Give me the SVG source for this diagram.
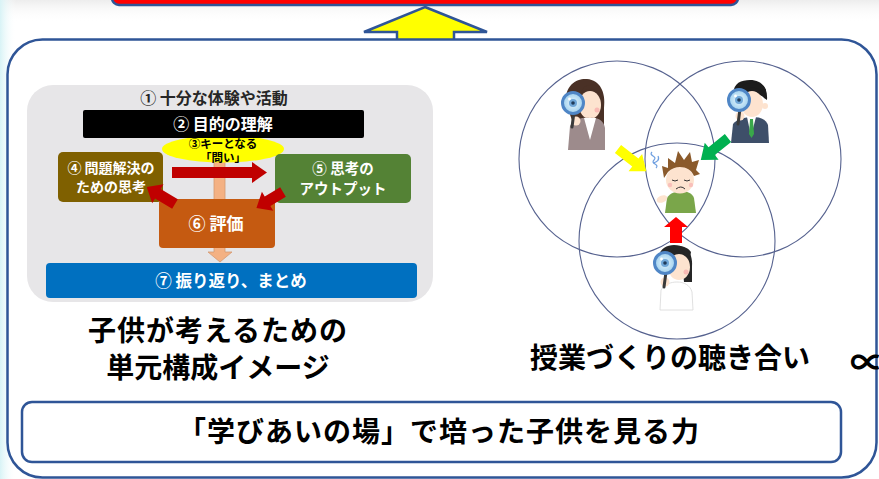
<svg xmlns="http://www.w3.org/2000/svg" width="879" height="479" viewBox="0 0 879 479">
  <defs>
    <linearGradient id="edgeL" x1="0" y1="0" x2="1" y2="0">
      <stop offset="0" stop-color="#d8f3f6"/>
      <stop offset="1" stop-color="#ffffff" stop-opacity="0"/>
    </linearGradient>
    <linearGradient id="edgeT" x1="0" y1="0" x2="0" y2="1">
      <stop offset="0" stop-color="#ededed"/>
      <stop offset="1" stop-color="#ffffff" stop-opacity="0"/>
    </linearGradient>
    <radialGradient id="lens" cx="0.5" cy="0.5" r="0.5">
      <stop offset="0" stop-color="#e8f6fd"/>
      <stop offset="1" stop-color="#9fd0ee"/>
    </radialGradient>
    <!-- magnifying glass, centred on the lens -->
    <g id="loupe">
      <line x1="1" y1="9" x2="-1" y2="24" stroke="#3a3a3a" stroke-width="3" stroke-linecap="round"/>
      <circle r="10.5" fill="url(#lens)" stroke="#4f86c6" stroke-width="3"/>
      <circle r="4" fill="#6fa7d8"/>
      <circle r="1.8" fill="#1f3b5a"/>
      <circle cx="-3.5" cy="-4" r="1.4" fill="#ffffff"/>
    </g>
  </defs>
  <style>
    .jp { font-family: "Noto Sans CJK JP", "Noto Sans", sans-serif; font-weight: 700; }
    .big { font-size: 28px; fill: #000; }
    .panel { font-size: 16px; }
    .wt { fill: #ffffff; }
    .frame { fill: #ffffff; stroke: #2f5597; stroke-width: 2.5; }
    .venn { fill: none; stroke: #56628f; stroke-width: 1.1; }
    .redArrow { fill: #c00000; }
    .skin { fill: #fde3cf; }
  </style>

  <!-- page background -->
  <rect width="879" height="479" fill="#ffffff"/>
  <rect width="879" height="22" fill="url(#edgeT)"/>
  <rect width="16" height="479" fill="url(#edgeL)"/>

  <!-- heading bar above (cut by the top edge) -->
  <g id="topBar">
    <rect x="112" y="-24" width="626" height="29" rx="7" fill="#ff0000" stroke="#2f5597" stroke-width="2.5"/>
  </g>

  <!-- upward block arrow -->
  <g id="upArrow">
    <polygon points="425,7 487,32 454,32 454,56 397,56 397,32 364,32" fill="#ffff00" stroke="#2f5597" stroke-width="2.5" stroke-linejoin="miter"/>
  </g>

  <!-- main frame -->
  <g id="mainFrame">
    <rect x="7.5" y="39.5" width="869" height="438" rx="35" class="frame"/>
  </g>

  <!-- unit structure panel -->
  <g id="unitPanel">
    <rect x="27" y="85" width="406" height="217" rx="26" fill="#e7e6e8"/>
    <text x="214" y="104" text-anchor="middle" class="jp panel" fill="#262626">① 十分な体験や活動</text>
  </g>

  <g id="connectors">
    <!-- key question down to reflection -->
    <polygon points="214,158 225,158 225,252 232,252 220,262 208,252 214,252" fill="#f4b183" stroke="#d49a72" stroke-width="0.8"/>
  </g>

  <g id="keyQuestion">
    <ellipse cx="223" cy="149" rx="61" ry="13.5" fill="#ffff00"/>
  </g>

  <g id="purpose">
    <rect x="83" y="110" width="281" height="28" rx="2" fill="#000000"/>
    <text x="223" y="130" text-anchor="middle" class="jp panel wt">② 目的の理解</text>
  </g>

  <g id="keyQuestionText">
    <text x="223" y="147.5" text-anchor="middle" class="jp" font-size="11.5px" fill="#000">③キーとなる</text>
    <text x="223" y="161.5" text-anchor="middle" class="jp" font-size="11.5px" fill="#000">「問い」</text>
  </g>

  <g id="problemSolving">
    <rect x="58" y="152" width="105" height="50" rx="5" fill="#7f6000"/>
    <text x="111" y="173" text-anchor="middle" class="jp wt" font-size="14px">④ 問題解決の</text>
    <text x="111" y="192" text-anchor="middle" class="jp wt" font-size="14px">ための思考</text>
  </g>

  <g id="output">
    <rect x="275" y="154" width="136" height="49" rx="5" fill="#548235"/>
    <text x="343" y="174" text-anchor="middle" class="jp wt" font-size="14.5px">⑤ 思考の</text>
    <text x="343" y="194" text-anchor="middle" class="jp wt" font-size="14.5px">アウトプット</text>
  </g>

  <g id="evaluation">
    <rect x="159" y="199" width="116" height="49" rx="4" fill="#c55a11"/>
    <text x="216" y="230" text-anchor="middle" class="jp wt" font-size="17px">⑥ 評価</text>
  </g>

  <g id="panelArrows">
    <!-- thinking to output -->
    <polygon class="redArrow" points="0,-5.5 0,5.5 80,5.5 80,10.5 95,0 80,-10.5 80,-5.5" transform="translate(172,172.5)"/>
    <!-- evaluation back to problem solving -->
    <polygon class="redArrow" points="0,-5.5 0,5.5 20,5.5 20,11 33,0 20,-11 20,-5.5" transform="translate(175,204) rotate(211)"/>
    <!-- output to evaluation -->
    <polygon class="redArrow" points="0,-5.5 0,5.5 18,5.5 18,11 31,0 18,-11 18,-5.5" transform="translate(283,192) rotate(149)"/>
  </g>

  <g id="reflection">
    <rect x="46" y="263" width="371" height="35" rx="4" fill="#0070c0"/>
    <text x="231" y="287" text-anchor="middle" class="jp wt" font-size="16.5px">⑦ 振り返り、まとめ</text>
  </g>

  <g id="unitCaption">
    <text x="218" y="341" text-anchor="middle" class="jp big" letter-spacing="1">子供が考えるための</text>
    <text x="218" y="378" text-anchor="middle" class="jp big" letter-spacing="0">単元構成イメージ</text>
  </g>

  <!-- three overlapping viewpoints -->
  <g id="vennCircles">
    <circle cx="617" cy="159" r="98" class="venn"/>
    <circle cx="743" cy="159" r="98" class="venn"/>
    <circle cx="677" cy="241" r="98" class="venn"/>
  </g>

  <g id="observerLeft">
    <path d="M566,104 C564,84 578,78 587,79 C600,80 606,92 604,108 L604,136 L592,136 L572,120 Z" fill="#4a3126"/>
    <ellipse cx="590" cy="105" rx="11" ry="14" class="skin"/>
    <path d="M580,94 C586,86 598,88 602,98 L602,92 C598,82 584,82 580,94 Z" fill="#4a3126"/>
    <circle cx="597" cy="110" r="2.5" fill="#f7a8a8" opacity="0.7"/>
    <path d="M568,150 L570,126 C574,119 582,117 590,118 C598,117 604,121 605,128 L605,150 Z" fill="#9d8b8c"/>
    <path d="M584,118 L590,140 L596,118 Z" fill="#ffffff"/>
    <circle cx="576" cy="121" r="4.5" class="skin"/>
    <use href="#loupe" x="573" y="103"/>
  </g>

  <g id="observerRight">
    <path d="M734,99 C731,84 740,80 750,80 C762,80 768,88 767,100 L764,98 C760,92 742,92 738,100 Z" fill="#1c1c1c"/>
    <ellipse cx="752" cy="104" rx="11" ry="13" class="skin"/>
    <path d="M740,96 C742,86 760,84 766,96 L766,90 C762,80 742,80 738,92 Z" fill="#1c1c1c"/>
    <circle cx="765" cy="106" r="3" class="skin"/>
    <path d="M731,143 L733,124 C737,119 745,117 752,117 C760,117 766,119 768,125 L769,143 Z" fill="#3e4f69"/>
    <path d="M747,117 L751,136 L756,117 Z" fill="#ffffff"/>
    <path d="M750,119 L753,119 L754,134 L751.5,138 L749,134 Z" fill="#3aa84a"/>
    <circle cx="740" cy="116" r="4.5" class="skin"/>
    <use href="#loupe" x="739" y="100"/>
  </g>

  <g id="child">
    <path d="M652,152 C648,156 658,156 654,160 C650,164 660,164 656,168" fill="none" stroke="#6f9fe0" stroke-width="1.2"/>
    <path d="M653,163 C657,162 660,160 658,156" fill="none" stroke="#6f9fe0" stroke-width="1.2"/>
    <path d="M665,213 L667,198 C670,193 676,191 681,191 C687,191 692,193 694,198 L696,213 Z" fill="#7aa64a"/>
    <ellipse cx="680" cy="180" rx="14" ry="13.5" class="skin"/>
    <path d="M664,178 L662,166 L668,168 L668,158 L675,163 L678,151 L684,160 L690,152 L692,162 L699,160 L696,170 L700,174 L694,176 C690,166 676,164 668,172 Z" fill="#8b5a2b"/>
    <path d="M672,180 q3,2 6,0 M684,180 q3,2 6,0" fill="none" stroke="#333" stroke-width="1"/>
    <path d="M676,189 q5,-4 9,0" fill="none" stroke="#333" stroke-width="1"/>
    <circle cx="670" cy="185" r="2.2" fill="#f7b0b0" opacity="0.7"/>
    <circle cx="691" cy="185" r="2.2" fill="#f7b0b0" opacity="0.7"/>
    <ellipse cx="662" cy="199" rx="5.5" ry="3.5" class="skin" transform="rotate(-20 662 199)"/>
  </g>

  <g id="observerBottom">
    <path d="M658,266 C656,252 664,245 674,245 C686,245 693,253 692,266 L692,282 L684,282 L682,262 Z" fill="#262626"/>
    <ellipse cx="679" cy="267" rx="11" ry="13" class="skin"/>
    <path d="M668,260 C670,250 684,248 690,258 L691,252 C686,244 670,244 666,254 Z" fill="#262626"/>
    <circle cx="686" cy="272" r="2.5" fill="#f7a8a8" opacity="0.7"/>
    <path d="M660,310 L661,290 C665,284 671,282 677,282 C684,282 690,285 692,292 L693,310 Z" fill="#ffffff" stroke="#d8d8d8" stroke-width="0.8"/>
    <circle cx="665" cy="282" r="4.5" class="skin"/>
    <use href="#loupe" x="665" y="263"/>
  </g>

  <g id="vennArrows">
    <polygon points="0,-5 0,5 22,5 22,11 36,0 22,-11 22,-5" fill="#ffff00" transform="translate(618,149) rotate(38)"/>
    <polygon points="0,-5 0,5 21,5 21,11 35,0 21,-11 21,-5" fill="#00b050" transform="translate(728,138) rotate(141)"/>
    <polygon points="0,-6 0,6 16,6 16,12 26,0 16,-12 16,-6" fill="#ff0000" transform="translate(676,243) rotate(-90)"/>
  </g>

  <g id="vennCaption">
    <text x="670" y="368" text-anchor="middle" class="jp big">授業づくりの聴き合い</text>
    <text x="850" y="375" class="jp" font-size="34px" font-weight="400" fill="#000">∝</text>
  </g>

  <!-- summary box -->
  <g id="summary">
    <rect x="22" y="402" width="819" height="60" rx="10" class="frame"/>
    <text x="439" y="442" text-anchor="middle" class="jp big" letter-spacing="1">「学びあいの場」で培った子供を見る力</text>
  </g>
</svg>
